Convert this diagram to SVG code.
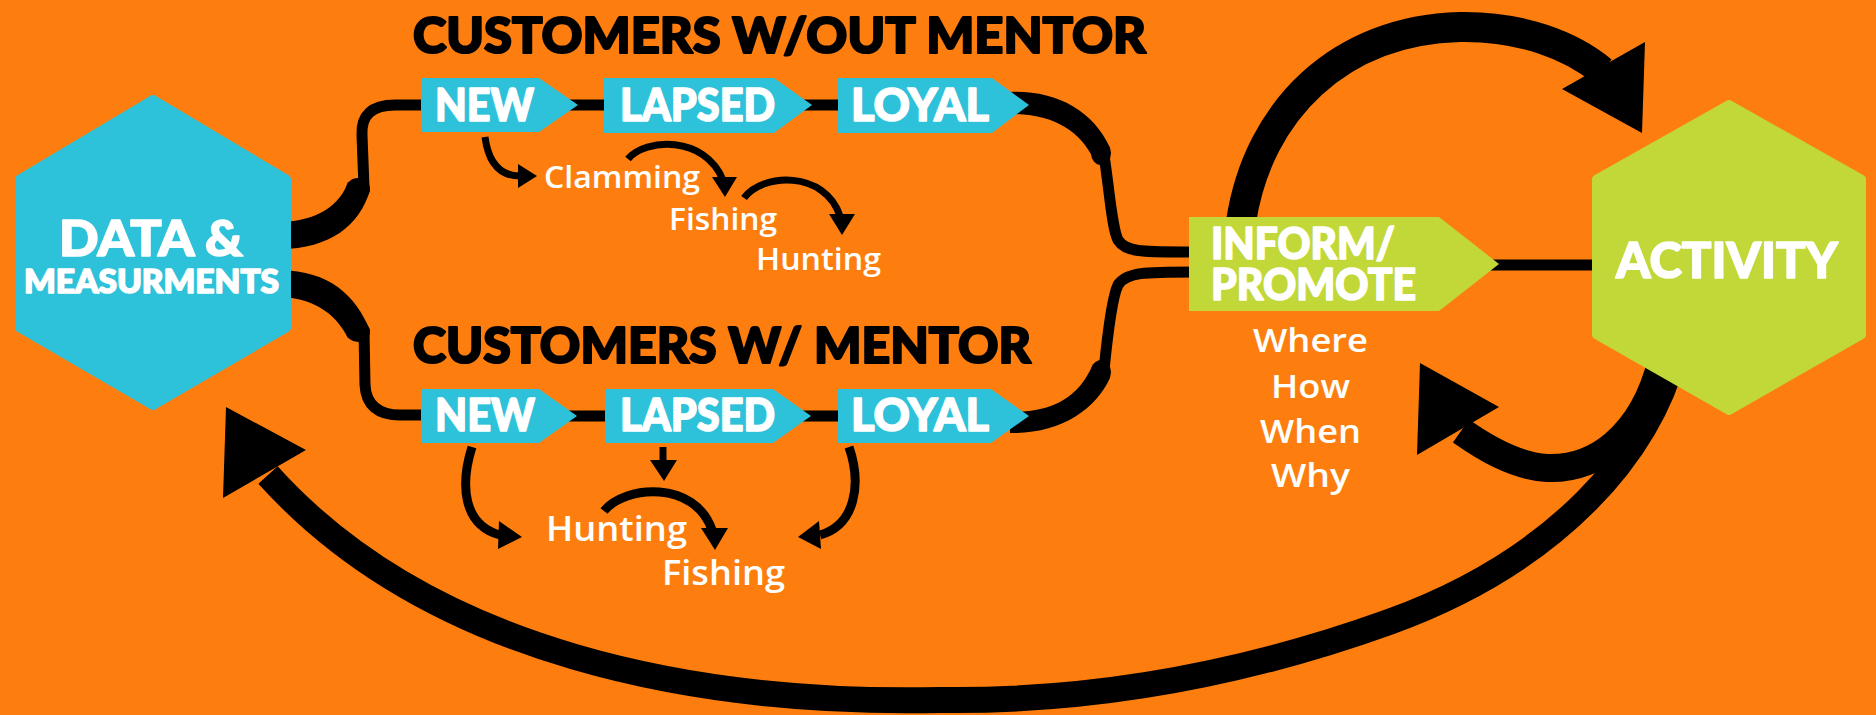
<svg xmlns="http://www.w3.org/2000/svg" width="1876" height="715" viewBox="0 0 1876 715">
  <style>
    .bg { fill: #fd7e0e; }
    .hexData { fill: #2ec2da; stroke: #2ec2da; stroke-width: 8; stroke-linejoin: round; }
    .hexAct { fill: #c2d838; stroke: #c2d838; stroke-width: 8; stroke-linejoin: round; }
    .stage { fill: #2ec2da; }
    .promo { fill: #c2d838; }
    .ink { fill: #000; }
    .rail { fill: none; stroke: #000; stroke-width: 11; stroke-linecap: butt; }
    .loop { fill: none; stroke: #000; stroke-linecap: butt; }
    .thin { fill: none; stroke: #000; stroke-width: 7; }
    .thinB { fill: none; stroke: #000; stroke-width: 9; }
    .hd { font-family: Lato, "Open Sans", "Liberation Sans", sans-serif; font-weight: 900; stroke-linejoin: round; }
    .title { fill: #000; stroke: #000; stroke-width: 2.2; font-size: 50px; }
    .lbl { fill: #fff; stroke: #fff; stroke-width: 1.6; }
    .sub { font-family: "Open Sans", "Noto Sans", "Liberation Sans", sans-serif; font-weight: 600; fill: #fff; }
  </style>

  <rect class="bg" x="0" y="0" width="1876" height="715"/>

  <!-- connectors -->
  <g id="connectors">
    <!-- big feedback loops -->
    <path class="loop" stroke-width="30" d="M 1241,222 C 1258,110 1340,30 1460,27 C 1522,26 1572,46 1602,71"/>
    <polygon class="ink" points="1645,42 1642,133 1562,89"/>

    <path class="loop" stroke-width="28" d="M 1662,360 C 1642,440 1592,470 1547,468 C 1515,466 1485,448 1461,431"/>
    <polygon class="ink" points="1420,363 1417,455 1499,407"/>

    <path class="loop" stroke-width="26" d="M 1674,355 C 1650,450 1560,560 1389,622 C 1250,672 1100,702 940,700 C 700,705 430,655 268,475"/>
    <polygon class="ink" points="226,407 223,498 306,450"/>

    <!-- promote to activity -->
    <line class="rail" x1="1480" y1="265" x2="1600" y2="265" stroke-width="17"/>

    <!-- rails through the stage boxes -->
    <line class="rail" x1="540" y1="105" x2="1000" y2="105"/>
    <line class="rail" x1="540" y1="416" x2="1000" y2="416"/>

    <!-- data hub to top row -->
    <path class="ink" d="M 280,222 C 318,221 340,205 348,182 L 370,190 C 360,225 330,249 280,249 Z"/>
    <ellipse class="ink" cx="358" cy="189" rx="12" ry="11"/>
    <path class="rail" d="M 364,188 L 362,135 C 361,115 372,105 395,105 L 430,105"/>

    <!-- data hub to bottom row -->
    <path class="ink" d="M 280,270 C 330,271 355,295 370,330 L 348,338 C 338,318 318,298 280,297 Z"/>
    <ellipse class="ink" cx="358" cy="332" rx="12" ry="10"/>
    <path class="rail" d="M 364,330 L 365,385 C 366,405 378,415 400,415 L 430,415"/>

    <!-- top row to promote -->
    <path class="ink" d="M 1010,92 C 1055,90 1093,110 1110,148 L 1093,158 C 1080,132 1055,114 1010,114 Z"/>
    <ellipse class="ink" cx="1101" cy="153" rx="10" ry="12"/>
    <path class="rail" d="M 1104,155 C 1110,195 1112,228 1118,240 C 1126,253 1145,252 1195,252"/>

    <!-- bottom row to promote -->
    <path class="rail" d="M 1195,272 C 1145,272 1126,272 1118,285 C 1112,297 1108,330 1104,370"/>
    <ellipse class="ink" cx="1101" cy="372" rx="10" ry="12"/>
    <path class="ink" d="M 1110,378 C 1095,410 1060,434 1010,433 L 1010,412 C 1050,412 1078,400 1093,364 Z"/>

    <!-- activity steps, top row -->
    <path class="thin" d="M 485,137 C 488,160 498,176 520,176"/>
    <polygon class="ink" points="537,176 518,164 518,188"/>
    <path class="thin" d="M 628,159 C 645,138 705,135 723,180"/>
    <polygon class="ink" points="725,197 712,177 737,177"/>
    <path class="thin" d="M 744,198 C 762,173 825,170 840,216"/>
    <polygon class="ink" points="842,235 829,214 855,214"/>

    <!-- activity steps, bottom row -->
    <path class="thinB" d="M 472,447 C 460,485 463,525 500,535"/>
    <polygon class="ink" points="522,537 499,521 498,549"/>
    <line class="thin" x1="663" y1="447" x2="663" y2="462"/>
    <polygon class="ink" points="664,481 650,460 677,460"/>
    <path class="thinB" d="M 604,511 C 625,485 695,480 712,530"/>
    <polygon class="ink" points="715,550 701,528 728,528"/>
    <path class="thinB" d="M 849,447 C 862,485 855,525 820,535"/>
    <polygon class="ink" points="798,537 819,521 821,549"/>
  </g>

  <!-- section headings -->
  <g id="heading-no-mentor">
    <text class="hd title" x="413" y="53" textLength="733" lengthAdjust="spacingAndGlyphs">CUSTOMERS W/OUT MENTOR</text>
  </g>
  <g id="heading-mentor">
    <text class="hd title" x="413" y="363" textLength="618" lengthAdjust="spacingAndGlyphs">CUSTOMERS W/ MENTOR</text>
  </g>

  <!-- hubs -->
  <g id="data">
    <polygon class="hexData" points="153,99 287,179 287,328 153,406 19,328 19,179"/>
    <text class="hd lbl" x="59" y="256" font-size="49" textLength="184" lengthAdjust="spacingAndGlyphs">DATA &amp;</text>
    <text class="hd lbl" x="24" y="293" font-size="32" textLength="255" lengthAdjust="spacingAndGlyphs">MEASURMENTS</text>
  </g>

  <g id="activity">
    <polygon class="hexAct" points="1729,104 1862,179 1862,335 1729,411 1596,335 1596,179"/>
    <text class="hd lbl" x="1616" y="278" font-size="50" textLength="222" lengthAdjust="spacingAndGlyphs">ACTIVITY</text>
  </g>

  <g id="promote">
    <polygon class="promo" points="1189,217 1439,217 1499,264 1439,311 1189,311"/>
    <text class="hd lbl" x="1211" y="259" font-size="44" textLength="184" lengthAdjust="spacingAndGlyphs">INFORM/</text>
    <text class="hd lbl" x="1211" y="300" font-size="44" textLength="205" lengthAdjust="spacingAndGlyphs">PROMOTE</text>
  </g>
  <g id="promote-notes">
    <text class="sub" x="1253" y="352" font-size="33" textLength="115" lengthAdjust="spacingAndGlyphs">Where</text>
    <text class="sub" x="1271" y="398" font-size="33" textLength="79" lengthAdjust="spacingAndGlyphs">How</text>
    <text class="sub" x="1260" y="443" font-size="33" textLength="101" lengthAdjust="spacingAndGlyphs">When</text>
    <text class="sub" x="1271" y="487" font-size="33" textLength="79" lengthAdjust="spacingAndGlyphs">Why</text>
  </g>

  <!-- stages without mentor -->
  <g id="new-a">
    <polygon class="stage" points="421,78 539,78 578,105 539,132 421,132"/>
    <text class="hd lbl" x="435" y="121" font-size="46" textLength="99" lengthAdjust="spacingAndGlyphs">NEW</text>
  </g>
  <g id="lapsed-a">
    <polygon class="stage" points="604,78 774,78 812,105 774,133 604,133"/>
    <text class="hd lbl" x="620" y="121" font-size="46" textLength="155" lengthAdjust="spacingAndGlyphs">LAPSED</text>
  </g>
  <g id="loyal-a">
    <polygon class="stage" points="838,78 992,78 1029,105 992,133 838,133"/>
    <text class="hd lbl" x="851" y="121" font-size="46" textLength="138" lengthAdjust="spacingAndGlyphs">LOYAL</text>
  </g>

  <!-- stages with mentor -->
  <g id="new-b">
    <polygon class="stage" points="421,389 539,389 577,416 539,443 421,443"/>
    <text class="hd lbl" x="435" y="431" font-size="46" textLength="100" lengthAdjust="spacingAndGlyphs">NEW</text>
  </g>
  <g id="lapsed-b">
    <polygon class="stage" points="605,389 773,389 811,416 773,443 605,443"/>
    <text class="hd lbl" x="620" y="431" font-size="46" textLength="155" lengthAdjust="spacingAndGlyphs">LAPSED</text>
  </g>
  <g id="loyal-b">
    <polygon class="stage" points="838,389 991,389 1029,416 991,443 838,443"/>
    <text class="hd lbl" x="851" y="431" font-size="46" textLength="138" lengthAdjust="spacingAndGlyphs">LOYAL</text>
  </g>

  <!-- activities -->
  <g id="clamming-a">
    <text class="sub" x="544" y="188" font-size="30" textLength="156" lengthAdjust="spacingAndGlyphs">Clamming</text>
  </g>
  <g id="fishing-a">
    <text class="sub" x="669" y="230" font-size="30" textLength="108" lengthAdjust="spacingAndGlyphs">Fishing</text>
  </g>
  <g id="hunting-a">
    <text class="sub" x="756" y="270" font-size="30" textLength="125" lengthAdjust="spacingAndGlyphs">Hunting</text>
  </g>
  <g id="hunting-b">
    <text class="sub" x="546" y="541" font-size="34" textLength="141" lengthAdjust="spacingAndGlyphs">Hunting</text>
  </g>
  <g id="fishing-b">
    <text class="sub" x="662" y="585" font-size="34" textLength="123" lengthAdjust="spacingAndGlyphs">Fishing</text>
  </g>
</svg>
